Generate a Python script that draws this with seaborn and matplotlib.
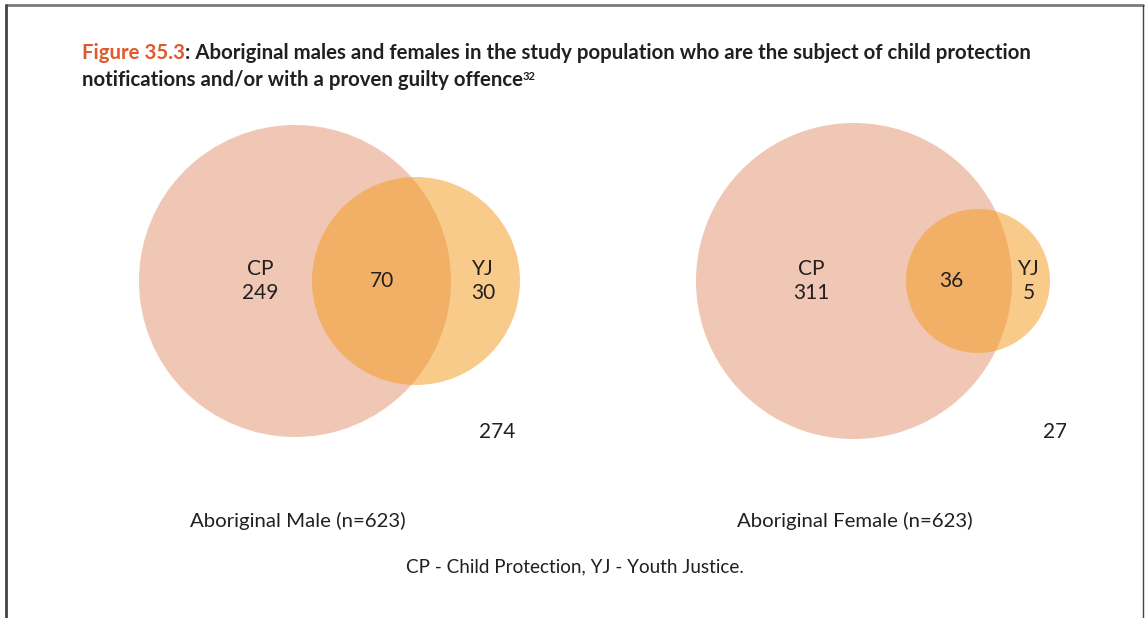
import matplotlib
matplotlib.use('Agg')
import matplotlib.pyplot as plt
from matplotlib.patches import Circle
import seaborn as sns

sns.set_theme(style='white')
plt.rcParams['font.family'] = ['Lato', 'DejaVu Sans']

# venn counts: CP only, both, YJ only, neither
panels = ["Aboriginal Male (n=623)", "Aboriginal Female (n=623)"]
cp_only = [249, 311]
both = [70, 36]
yj_only = [30, 5]
neither = [274, 271]

# layout in pixels
cp_x = [295, 854]
cp_r = [156, 158]
yj_x = [416, 978]
yj_r = [104, 72]
cy = 281
cp_lab_x = [260, 811]
both_lab_x = [382, 951]
yj_lab_x = [483, 1029]
out_lab_x = [497, 1061]
panel_lab_x = [298, 855]

CP_COL = '#E38F6B'
YJ_COL = '#F59919'
INK = '#231F20'

W, H = 1145, 618
fig = plt.figure(figsize=(W / 100, H / 100), dpi=100)
ax = fig.add_axes([0, 0, 1, 1])
ax.set_xlim(0, W)
ax.set_ylim(H, 0)
ax.axis('off')

# second axes clipped at x=1066 so the female "outside" count is cut like the source
clip_w = 1066
ax2 = fig.add_axes([0, 0, clip_w / W, 1])
ax2.set_xlim(0, clip_w)
ax2.set_ylim(H, 0)
ax2.axis('off')
ax2.patch.set_alpha(0)

# frame lines (top, left, right)
ax.plot([6, 1143], [5, 5], color='#7a7a7a', lw=2)
ax.plot([6, 6], [5, H], color='#444444', lw=2)
ax.plot([1143, 1143], [5, H], color='#444444', lw=1)

fs = 15
for i in range(2):
    ax.add_patch(Circle((cp_x[i], cy), cp_r[i], color=CP_COL, alpha=0.5, lw=0))
    ax.add_patch(Circle((yj_x[i], cy), yj_r[i], color=YJ_COL, alpha=0.5, lw=0))
    ax.text(cp_lab_x[i], cy, f"CP\n{cp_only[i]}", ha='center', va='center',
            fontsize=fs, color=INK, linespacing=1.25)
    ax.text(both_lab_x[i], cy, str(both[i]), ha='center', va='center',
            fontsize=fs, color=INK)
    ax.text(yj_lab_x[i], cy, f"YJ\n{yj_only[i]}", ha='center', va='center',
            fontsize=fs, color=INK, linespacing=1.25)
    ax2.text(out_lab_x[i], 432, str(neither[i]), ha='center', va='center',
             fontsize=fs, color=INK, clip_on=True)
    ax.text(panel_lab_x[i], 521, panels[i], ha='center', va='center',
            fontsize=14.7, color=INK)

ax.text(575, 567, "CP - Child Protection, YJ - Youth Justice.", ha='center',
        va='center', fontsize=13.6, color=INK)

# title
tfs = 14.7
t1 = ax.text(82, 53, "Figure 35.3", ha='left', va='center', fontsize=tfs,
             fontweight='bold', color='#E0592A')
ax.annotate(": Aboriginal males and females in the study population who are the subject of child protection",
            xy=(1, 0), xycoords=t1, ha='left', va='bottom', fontsize=tfs,
            fontweight='bold', color=INK)
t2 = ax.text(82, 80, "notifications and/or with a proven guilty offence", ha='left',
             va='center', fontsize=tfs, fontweight='bold', color=INK)
ax.annotate("32", xy=(1, 0.95), xycoords=t2, ha='left', va='top', fontsize=8,
            fontweight='bold', color=INK)

fig.savefig('out.png', dpi=100)
